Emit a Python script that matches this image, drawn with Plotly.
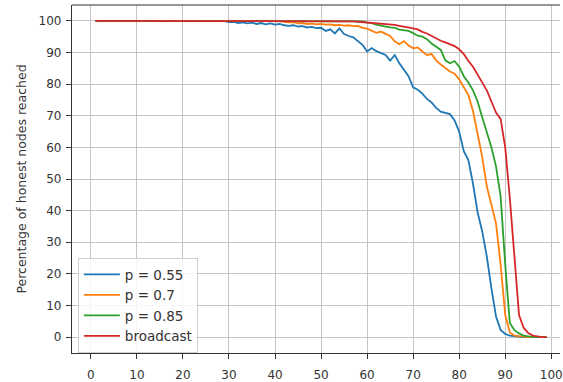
import plotly.graph_objects as go

steps = list(range(1, 100))

p055 = [100, 100, 100, 100, 100, 100, 100, 100, 100, 100,
        100, 100, 100, 100, 100, 100, 100, 100, 100, 100,
        100, 100, 100, 100, 100, 100, 99.9, 99.8, 99.9, 99.6,
        99.7, 99.3, 99.5, 99.2, 99.4, 99.0, 99.3, 98.9, 99.2, 98.8,
        99.0, 98.6, 98.4, 98.6, 98.2, 98.3, 97.9, 98.1, 97.7, 97.8,
        96.8, 97.3, 96.0, 97.6, 95.8, 95.2, 94.8, 93.6, 92.4, 90.3,
        91.4, 90.4, 89.8, 89.2, 87.4, 89.2, 86.6, 84.5, 82.5, 79.0,
        78.2, 77.0, 75.3, 74.2, 72.5, 71.3, 70.8, 70.5, 68.5, 65.0,
        58.8, 56.0, 48.5, 39.5, 33.5, 25.5, 15.5, 6.5, 2.3, 1.0,
        0.5, 0.3, 0.1, 0, 0, 0, 0, 0, 0]

p07 = [100, 100, 100, 100, 100, 100, 100, 100, 100, 100,
       100, 100, 100, 100, 100, 100, 100, 100, 100, 100,
       100, 100, 100, 100, 100, 100, 100, 100, 100, 100,
       100, 100, 100, 100, 100, 100, 100, 100, 100, 100,
       99.9, 99.7, 99.5, 99.6, 99.2, 99.3, 99.0, 99.1, 98.9, 99.0,
       98.8, 98.9, 98.6, 98.7, 98.5, 98.6, 98.3, 98.4, 97.8, 97.5,
       96.8, 96.2, 96.6, 96.0, 95.2, 93.5, 92.6, 93.6, 92.2, 91.3,
       91.6, 90.3, 89.2, 89.5, 87.5, 86.2, 85.0, 84.0, 83.3, 81.5,
       79.0, 76.5, 71.5, 64.0, 57.0, 47.7, 42.0, 36.0, 23.0, 7.0,
       1.5, 0.5, 0.3, 0.1, 0, 0, 0, 0, 0]

p085 = [100, 100, 100, 100, 100, 100, 100, 100, 100, 100,
        100, 100, 100, 100, 100, 100, 100, 100, 100, 100,
        100, 100, 100, 100, 100, 100, 100, 100, 100, 100,
        100, 100, 100, 100, 100, 100, 100, 100, 100, 100,
        100, 100, 100, 100, 100, 100, 100, 100, 100, 100,
        100, 100, 100, 100, 100, 100, 100, 100, 99.8, 99.4,
        99.3, 98.8, 98.6, 98.2, 97.9, 97.8, 97.2, 97.0, 96.8, 96.1,
        95.3, 95.0, 94.2, 92.8, 91.8, 90.8, 87.5, 86.6, 87.3, 85.5,
        82.5, 80.5, 78.0, 74.5, 69.5, 64.5, 60.0, 54.0, 44.5, 23.0,
        4.5, 2.2, 1.2, 0.5, 0.2, 0, 0, 0, 0]

broadcast = [100, 100, 100, 100, 100, 100, 100, 100, 100, 100,
             100, 100, 100, 100, 100, 100, 100, 100, 100, 100,
             100, 100, 100, 100, 100, 100, 100, 100, 100, 100,
             100, 100, 100, 100, 100, 100, 100, 100, 100, 100,
             100, 100, 100, 100, 100, 100, 100, 100, 100, 100,
             100, 100, 100, 100, 100, 99.9, 99.8, 99.7, 99.6, 99.5,
             99.4, 99.3, 99.2, 99.0, 98.9, 98.7, 98.4, 98.2, 97.9, 97.6,
             97.3, 96.5, 96.0, 95.2, 94.4, 93.7, 93.2, 92.6, 92.0, 91.0,
             89.5, 87.3, 85.5, 83.0, 80.5, 78.0, 74.5, 71.0, 69.0, 60.0,
             44.0, 25.0, 7.0, 3.0, 1.3, 0.5, 0.2, 0, 0]

series_names = ["p = 0.55", "p = 0.7", "p = 0.85", "broadcast"]
series_values = [p055, p07, p085, broadcast]
series_colors = ["#1f77b4", "#ff7f0e", "#2ca02c", "#d62728"]

x_ticks = [0, 10, 20, 30, 40, 50, 60, 70, 80, 90, 100]
y_ticks = [0, 10, 20, 30, 40, 50, 60, 70, 80, 90, 100]
y_title = "Percentage of honest nodes reached"

fig = go.Figure()
for name, vals, col in zip(series_names, series_values, series_colors):
    fig.add_trace(go.Scatter(x=steps, y=vals, mode="lines", name=name,
                             line=dict(color=col, width=1.8)))

axis_common = dict(
    showgrid=True, gridcolor="#c4c4c4", gridwidth=1,
    zeroline=False, showline=True, linecolor="#333333", linewidth=1.2,
    ticks="outside", ticklen=5, tickwidth=1, tickcolor="#333333",
    tickfont=dict(family="DejaVu Sans", size=12, color="#333333"),
    ticklabeloverflow="allow",
)

fig.update_layout(
    width=563, height=382,
    margin=dict(l=72, r=0, t=5, b=27),
    plot_bgcolor="white", paper_bgcolor="white",
    font=dict(family="DejaVu Sans", size=12, color="#333333"),
    xaxis=dict(range=[-4.1, 101.9], tickvals=x_ticks, ticklabelstandoff=5,
               **axis_common),
    yaxis=dict(range=[-5, 105], tickvals=y_ticks, ticklabelstandoff=2,
               title=dict(text=y_title, font=dict(size=12.5), standoff=9),
               **axis_common),
    legend=dict(x=0.012, y=0.0, xanchor="left", yanchor="bottom",
                bgcolor="rgba(255,255,255,0.85)", bordercolor="#d0d0d0",
                borderwidth=1, itemwidth=36,
                font=dict(family="DejaVu Sans", size=13.5, color="#333333"),
                tracegroupgap=0),
    showlegend=True,
)
fig.add_shape(type="line", xref="paper", yref="paper", x0=0, x1=1, y0=1, y1=1,
              line=dict(color="#333333", width=1.2))

fig.write_html("out.html")
